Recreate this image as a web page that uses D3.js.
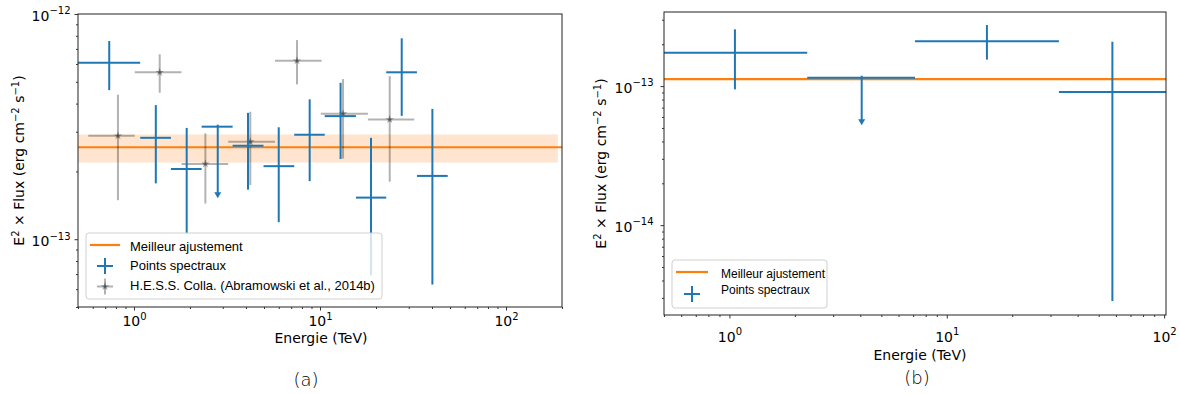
<!DOCTYPE html>
<html><head><meta charset="utf-8">
<script src="https://cdn.jsdelivr.net/npm/d3@7"></script>
<style>
body{margin:0;background:#fff;}
text{font-family:"DejaVu Sans",sans-serif;fill:#000;}
.leg text{font-family:"Liberation Sans",Arial,sans-serif;}
</style></head><body>
<script>
// ---------- Panel (a) data ----------
const energyA   = [0.736, 1.31, 1.92, 2.82, 4.10, 6.00, 8.80, 12.9, 18.8, 27.5, 40.2];
const energyLoA = [0.5, 1.08, 1.58, 2.31, 3.39, 4.97, 7.27, 10.6, 15.6, 22.7, 33.2];
const energyHiA = [1.08, 1.58, 2.31, 3.39, 4.97, 7.27, 10.6, 15.6, 22.7, 33.2, 48.6];
const fluxA     = [6.07e-13, 2.82e-13, 2.05e-13, 3.16e-13, 2.60e-13, 2.11e-13, 2.91e-13, 3.52e-13, 1.53e-13, 5.51e-13, 1.91e-13];
const fluxLoA   = [4.59e-13, 1.77e-13, 1.06e-13, 1.52e-13, 1.66e-13, 1.19e-13, 1.81e-13, 2.27e-13, 6.92e-14, 3.53e-13, 6.29e-14];
const fluxHiA   = [7.59e-13, 3.94e-13, 3.12e-13, 3.16e-13, 3.64e-13, 3.14e-13, 4.18e-13, 4.95e-13, 2.82e-13, 7.80e-13, 3.79e-13];
const upperLimitA = [false, false, false, true, false, false, false, false, false, false, false];

const energyH   = [0.82, 1.375, 2.42, 4.22, 7.52, 13.3, 23.7];
const energyLoH = [0.568, 1.01, 1.80, 3.21, 5.73, 10.1, 18.1];
const energyHiH = [1.01, 1.80, 3.21, 5.73, 10.2, 18.1, 32.1];
const fluxH     = [2.88e-13, 5.51e-13, 2.16e-13, 2.71e-13, 6.20e-13, 3.61e-13, 3.40e-13];
const fluxLoH   = [1.49e-13, 4.47e-13, 1.44e-13, 1.74e-13, 4.87e-13, 2.28e-13, 1.80e-13];
const fluxHiH   = [4.38e-13, 6.62e-13, 2.95e-13, 3.68e-13, 7.66e-13, 5.14e-13, 5.30e-13];

const fitA = 2.56e-13;
const fitBandA = [2.19e-13, 2.92e-13];
const fitBandRangeA = [0.5, 190];
const xDomainA = [0.5, 200];
const yDomainA = [5e-14, 1e-12];
const xTicksA = [1, 10, 100];
const yTicksA = [1e-13, 1e-12];

// ---------- Panel (b) data ----------
const energyB   = [1.06, 4.06, 15.3, 57.8];
const energyLoB = [0.5, 2.28, 7.14, 32.8];
const energyHiB = [2.28, 7.14, 32.8, 102];
const fluxB     = [1.74e-13, 1.148e-13, 2.10e-13, 9.05e-14];
const fluxLoB   = [9.47e-14, 5.24e-14, 1.55e-13, 2.85e-15];
const fluxHiB   = [2.56e-13, 1.148e-13, 2.75e-13, 2.08e-13];
const upperLimitB = [false, true, false, false];
const fitB = 1.123e-13;
const xDomainB = [0.5, 102];
const yDomainB = [2.26e-15, 3.41e-13];
const xTicksB = [1, 10, 100];
const yTicksB = [1e-14, 1e-13];

const legendLabels = ["Meilleur ajustement", "Points spectraux", "H.E.S.S. Colla. (Abramowski et al., 2014b)"];
const xLabel = "Energie (TeV)";
const captions = ["(a)", "(b)"];

const BLUE = "#1f77b4", ORANGE = "#ff7f0e";

const svg = d3.select("body").append("svg").attr("width", 1180).attr("height", 394);

function minorTicks(domain) {
  const out = [];
  const lo = Math.floor(Math.log10(domain[0])), hi = Math.ceil(Math.log10(domain[1]));
  for (let e = lo; e <= hi; e++) for (let k = 2; k <= 9; k++) {
    const v = k * Math.pow(10, e);
    if (v >= domain[0] * 0.999 && v <= domain[1] * 1.001) out.push(v);
  }
  return out;
}

function sup10(sel, v) {
  const e = Math.round(Math.log10(v));
  sel.text(null);
  sel.append("tspan").text("10");
  sel.append("tspan").attr("dy", -6.5).attr("font-size", "10px").text(String(e).replace("-", "\u2212"));
}

function panel(cfg) {
  const g = svg.append("g");
  const x = d3.scaleLog().domain(cfg.xDomain).range([cfg.left, cfg.right]);
  const y = d3.scaleLog().domain(cfg.yDomain).range([cfg.bottom, cfg.top]);
  const clipId = "clip" + cfg.id;
  svg.append("clipPath").attr("id", clipId).append("rect")
    .attr("x", cfg.left).attr("y", cfg.top).attr("width", cfg.right - cfg.left).attr("height", cfg.bottom - cfg.top);
  const plot = g.append("g").attr("clip-path", `url(#${clipId})`);

  if (cfg.band) {
    plot.append("rect")
      .attr("x", x(cfg.bandRange[0])).attr("width", x(cfg.bandRange[1]) - x(cfg.bandRange[0]))
      .attr("y", y(cfg.band[1])).attr("height", y(cfg.band[0]) - y(cfg.band[1]))
      .attr("fill", ORANGE).attr("fill-opacity", 0.2);
  }
  plot.append("line").attr("x1", cfg.left).attr("x2", cfg.right)
    .attr("y1", y(cfg.fit)).attr("y2", y(cfg.fit)).attr("stroke", ORANGE).attr("stroke-width", 2.2);

  if (cfg.hess) {
    const h = cfg.hess;
    h.e.forEach((e, i) => {
      const gg = plot.append("g");
      gg.append("line").attr("x1", x(h.lo[i])).attr("x2", x(h.hi[i])).attr("y1", y(h.f[i])).attr("y2", y(h.f[i]))
        .attr("stroke", "#000").attr("stroke-opacity", 0.3).attr("stroke-width", 2);
      gg.append("line").attr("x1", x(e)).attr("x2", x(e)).attr("y1", y(h.fhi[i])).attr("y2", y(h.flo[i]))
        .attr("stroke", "#000").attr("stroke-opacity", 0.3).attr("stroke-width", 2);
      gg.append("path").attr("d", d3.symbol(d3.symbolStar, 22)())
        .attr("transform", `translate(${x(e)},${y(h.f[i])})`).attr("fill", "#000").attr("fill-opacity", 0.35);
    });
  }

  const p = cfg.pts;
  p.e.forEach((e, i) => {
    const gg = plot.append("g");
    gg.append("line").attr("x1", x(p.lo[i])).attr("x2", x(p.hi[i])).attr("y1", y(p.f[i])).attr("y2", y(p.f[i]))
      .attr("stroke", BLUE).attr("stroke-width", 2);
    if (p.ul[i]) {
      const yEnd = y(p.flo[i]);
      gg.append("line").attr("x1", x(e)).attr("x2", x(e)).attr("y1", y(p.f[i]) - 2).attr("y2", yEnd - 5)
        .attr("stroke", BLUE).attr("stroke-width", 2);
      gg.append("path").attr("d", `M${x(e) - 3.5},${yEnd - 6} L${x(e) + 3.5},${yEnd - 6} L${x(e)},${yEnd} Z`)
        .attr("fill", BLUE);
    } else {
      gg.append("line").attr("x1", x(e)).attr("x2", x(e)).attr("y1", y(p.fhi[i])).attr("y2", y(p.flo[i]))
        .attr("stroke", BLUE).attr("stroke-width", 2);
    }
  });

  g.append("rect").attr("x", cfg.left).attr("y", cfg.top).attr("width", cfg.right - cfg.left).attr("height", cfg.bottom - cfg.top)
    .attr("fill", "none").attr("stroke", "#222").attr("stroke-width", 1);

  const xMinor = minorTicks(cfg.xDomain);
  const yMinor = minorTicks(cfg.yDomain);
  const ax = g.append("g").attr("transform", `translate(0,${cfg.bottom})`)
    .call(d3.axisBottom(x).tickValues(cfg.xTicks).tickSize(3.5).tickPadding(cfg.xPad).tickFormat(() => ""));
  ax.select(".domain").remove();
  ax.selectAll("text").each(function(d) { sup10(d3.select(this), d); })
    .attr("font-size", "14px").attr("font-family", "DejaVu Sans").attr("dy", null).attr("y", cfg.xLabelBase - cfg.bottom);
  g.append("g").attr("transform", `translate(0,${cfg.bottom})`)
    .call(d3.axisBottom(x).tickValues(xMinor).tickSize(2).tickFormat(() => ""))
    .select(".domain").remove();
  const ay = g.append("g").attr("transform", `translate(${cfg.left},0)`)
    .call(d3.axisLeft(y).tickValues(cfg.yTicks).tickSize(3.5).tickPadding(cfg.yPad).tickFormat(() => ""));
  ay.select(".domain").remove();
  ay.selectAll("text").each(function(d) { sup10(d3.select(this), d); })
    .attr("font-size", "14px").attr("font-family", "DejaVu Sans").attr("dy", "0.45em");
  g.append("g").attr("transform", `translate(${cfg.left},0)`)
    .call(d3.axisLeft(y).tickValues(yMinor).tickSize(2).tickFormat(() => ""))
    .select(".domain").remove();
  g.selectAll(".tick line").attr("stroke", "#333");

  g.append("text").attr("x", cfg.xLabelX).attr("y", cfg.xTitleBase).attr("text-anchor", "middle")
    .attr("font-size", "14px").text(xLabel);
  const yl = g.append("text").attr("transform", `translate(${cfg.yTitleX},${(cfg.top + cfg.bottom) / 2}) rotate(-90)`)
    .attr("text-anchor", "middle").attr("font-size", "14px");
  yl.append("tspan").text("E");
  yl.append("tspan").attr("dy", -5.5).attr("font-size", "10px").text("2");
  yl.append("tspan").attr("dy", 5.5).text(" \u00d7 Flux (erg cm");
  yl.append("tspan").attr("dy", -5.5).attr("font-size", "10px").text("\u22122");
  yl.append("tspan").attr("dy", 5.5).text(" s");
  yl.append("tspan").attr("dy", -5.5).attr("font-size", "10px").text("\u22121");
  yl.append("tspan").attr("dy", 5.5).text(")");

  g.append("text").attr("x", cfg.capX).attr("y", cfg.capY).attr("text-anchor", "middle")
    .attr("font-size", "18px").attr("font-family", "Open Sans").attr("font-weight", 300).text(cfg.caption);

  const L = cfg.legend;
  const lg = g.append("g").attr("class", "leg");
  lg.append("rect").attr("x", L.x).attr("y", L.y).attr("width", L.w).attr("height", L.h).attr("rx", 3)
    .attr("fill", "#fff").attr("fill-opacity", 0.8).attr("stroke", "#d0d0d0");
  L.rows.forEach((r, i) => {
    const cy = r.y;
    if (i === 0) {
      lg.append("line").attr("x1", L.hx0).attr("x2", L.hx1).attr("y1", cy).attr("y2", cy)
        .attr("stroke", ORANGE).attr("stroke-width", 2.2);
    } else {
      const col = i === 1 ? BLUE : "#000";
      const op = i === 1 ? 1 : 0.3;
      const mx = (L.hx0 + L.hx1) / 2;
      lg.append("line").attr("x1", mx - 8).attr("x2", mx + 8).attr("y1", cy).attr("y2", cy)
        .attr("stroke", col).attr("stroke-opacity", op).attr("stroke-width", 2);
      lg.append("line").attr("x1", mx).attr("x2", mx).attr("y1", cy - 8).attr("y2", cy + 8)
        .attr("stroke", col).attr("stroke-opacity", op).attr("stroke-width", 2);
      if (i === 2) lg.append("path").attr("d", d3.symbol(d3.symbolStar, 22)())
        .attr("transform", `translate(${mx},${cy})`).attr("fill", "#000").attr("fill-opacity", 0.35);
    }
    lg.append("text").attr("x", L.tx).attr("y", r.ty).attr("font-size", L.fs).attr("dy", "0.35em").text(legendLabels[i]);
  });
}

panel({
  id: "a", left: 78, right: 562, top: 14, bottom: 307,
  xDomain: xDomainA, yDomain: yDomainA, xTicks: xTicksA, yTicks: yTicksA,
  xPad: 3.5, yPad: 4, xLabelBase: 326, xTitleBase: 343, xLabelX: 321, yTitleX: 24,
  capX: 306, capY: 386, caption: captions[0],
  fit: fitA, band: fitBandA, bandRange: fitBandRangeA,
  hess: { e: energyH, lo: energyLoH, hi: energyHiH, f: fluxH, flo: fluxLoH, fhi: fluxHiH },
  pts: { e: energyA, lo: energyLoA, hi: energyHiA, f: fluxA, flo: fluxLoA, fhi: fluxHiA, ul: upperLimitA },
  legend: { x: 86, y: 233, w: 296, h: 66, hx0: 90, hx1: 120, tx: 130, fs: "13px",
    rows: [{ y: 245, ty: 246.5 }, { y: 266, ty: 265 }, { y: 286.5, ty: 285.5 }] }
});

panel({
  id: "b", left: 664, right: 1166, top: 12, bottom: 315,
  xDomain: xDomainB, yDomain: yDomainB, xTicks: xTicksB, yTicks: yTicksB,
  xPad: 3.5, yPad: 7, xLabelBase: 341.5, xTitleBase: 360, xLabelX: 920, yTitleX: 606,
  capX: 917, capY: 384, caption: captions[1],
  fit: fitB, band: null,
  hess: null,
  pts: { e: energyB, lo: energyLoB, hi: energyHiB, f: fluxB, flo: fluxLoB, fhi: fluxHiB, ul: upperLimitB },
  legend: { x: 672, y: 260, w: 155, h: 48, hx0: 676, hx1: 708, tx: 721, fs: "12px",
    rows: [{ y: 272, ty: 273.3 }, { y: 294, ty: 290 }] }
});
</script>
</body></html>
